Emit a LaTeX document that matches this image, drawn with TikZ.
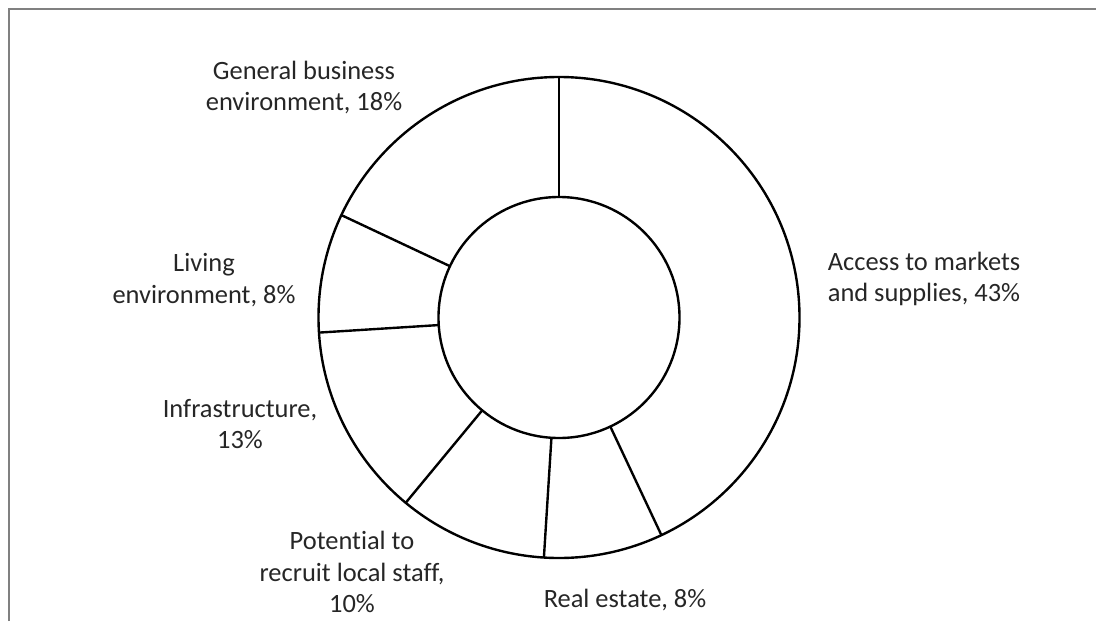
\documentclass[tikz,border=0pt]{standalone}
\usepackage{fontspec}
\setmainfont[Ligatures=NoCommon]{Carlito}
\usetikzlibrary{calc}

\tikzset{
  ring/.style={black, line width=1.7pt},
  lbl/.style={text=black!85, align=center, inner sep=0pt,
    font=\fontsize{18.8}{22.6}\selectfont}
}

\begin{document}
\begin{tikzpicture}[x=0.025cm,y=0.025cm]
\useasboundingbox (0,0) rectangle (1096,621);
% chart frame, open to the right and below
\draw[black!50, line width=1.5pt] (9,0) |- (1096,612);
% the ring
\coordinate (c) at (559,303.5);
\draw[ring] (c) circle (240.5);
\draw[ring] (c) circle (120.5);
\foreach \a in {90,-64.8,-93.6,-129.6,-176.4,154.8}
  \draw[ring] ($(c)+(\a:120.5)$) -- ($(c)+(\a:240.5)$);
% labels
\node[lbl] (gen)    at (304,533.5) {General business\\environment, 18\%};
\node[lbl] (living) at (204,341)   {Living\\environment, 8\%};
\node[lbl] (infra)  at (240,197)   {Infrastructure,\\13\%};
\node[lbl] (staff)  at (352,49)    {Potential to\\recruit local staff,\\10\%};
\node[lbl] (estate) at (625,21)    {Real estate, 8\%};
\node[lbl] (access) at (924,342)   {Access to markets\\and supplies, 43\%};
\end{tikzpicture}
\end{document}
